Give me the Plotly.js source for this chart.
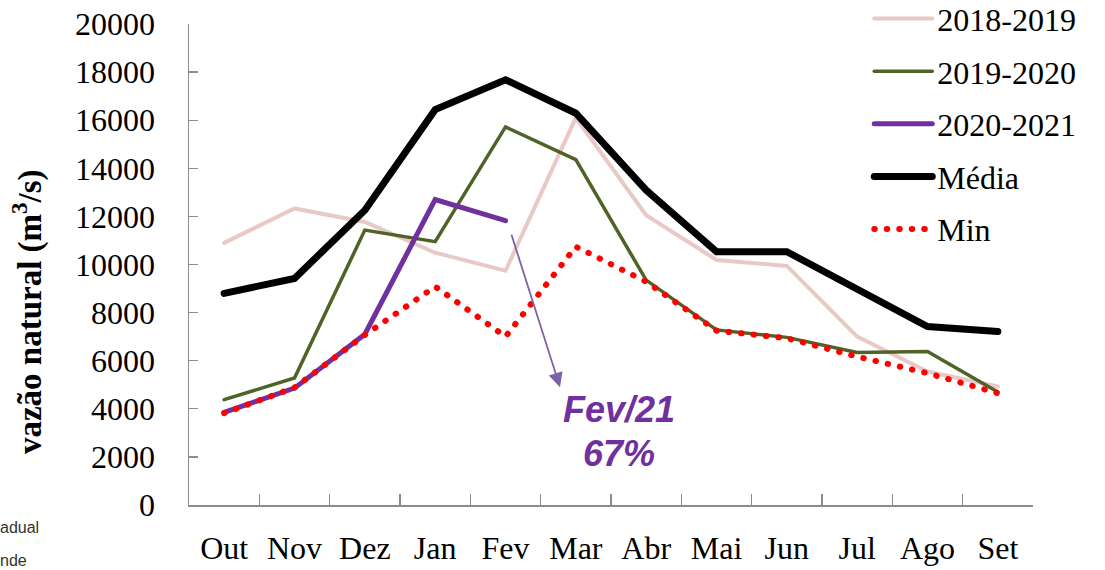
<!DOCTYPE html>
<html>
<head>
<meta charset="utf-8">
<script src="https://cdn.plot.ly/plotly-3.0.1.min.js"></script>
<style>
  html, body { margin: 0; padding: 0; background: #ffffff; }
  #chart { width: 1105px; height: 570px; }
  .js-line { stroke-linecap: round; }
</style>
</head>
<body>
<div id="chart"></div>
<script>
const months = ['Out','Nov','Dez','Jan','Fev','Mar','Abr','Mai','Jun','Jul','Ago','Set'];
const s2018 = [10900, 12330, 11770, 10490, 9740, 16100, 12050, 10190, 9940, 7000, 5550, 4930];
const s2019 = [4380, 5280, 11430, 10950, 15720, 14360, 9350, 7280, 6970, 6340, 6380, 4700];
const s2020 = [3850, 4860, 7100, 12700, 11820];
const media = [8800, 9420, 12260, 16440, 17680, 16290, 13090, 10530, 10530, 8940, 7420, 7210];
const minv  = [3820, 4880, 7070, 9080, 7000, 10740, 9285, 7250, 6935, 6170, 5480, 4650];
const seriesNames = ['2018-2019', '2019-2020', '2020-2021', 'Média', 'Min'];
const yTitle = 'vazão natural (m<sup>3</sup>/s)';
const noteLine1 = 'Fev/21';
const noteLine2 = '67%';

const serif = 'Liberation Serif, Times New Roman, serif';

const traces = [
  { x: months, y: s2018, name: seriesNames[0], legendgroup: 'a', line: { color: '#E8C9C5', width: 4 } },
  { x: months, y: s2019, name: seriesNames[1], legendgroup: 'b', line: { color: '#4F6228', width: 3.5 } },
  { x: months.slice(0, s2020.length), y: s2020, name: seriesNames[2], legendgroup: 'c', line: { color: '#7030A0', width: 5 } },
  { x: months, y: media, name: seriesNames[3], legendgroup: 'd', line: { color: '#000000', width: 7 } },
  { x: months, y: minv, name: seriesNames[4], legendgroup: 'e', line: { color: '#FF0000', width: 6, dash: '0.5px,12px' } }
].map(t => Object.assign({ type: 'scatter', mode: 'lines', hoverinfo: 'skip' }, t));

const layout = {
  width: 1105, height: 570,
  margin: { l: 189, r: 72, t: 24, b: 65, pad: 0, autoexpand: false },
  paper_bgcolor: '#ffffff', plot_bgcolor: '#ffffff',
  showlegend: true,
  legend: {
    x: 0.806, xanchor: 'left', y: 1.068, yanchor: 'top',
    font: { family: serif, size: 32, color: '#000' },
    traceorder: 'grouped', tracegroupgap: 8, itemwidth: 58,
    bgcolor: 'rgba(0,0,0,0)', borderwidth: 0
  },
  xaxis: {
    type: 'category', categoryorder: 'array', categoryarray: months,
    range: [-0.5, 11.5],
    showline: true, linecolor: '#8c8c8c', linewidth: 1.5,
    ticks: 'inside', tickson: 'boundaries', ticklen: 11, tickcolor: '#8c8c8c', tickwidth: 1.3,
    showgrid: false, zeroline: false,
    tickfont: { family: serif, size: 32, color: '#000' },
    ticklabelstandoff: 14
  },
  yaxis: {
    range: [0, 20000], dtick: 2000, tick0: 0, tickformat: 'd',
    showline: true, linecolor: '#8c8c8c', linewidth: 1.5,
    ticks: 'inside', ticklen: 9, tickcolor: '#8c8c8c', tickwidth: 1.3,
    showgrid: false, zeroline: false,
    tickfont: { family: serif, size: 32, color: '#000' },
    ticklabelstandoff: 26
  },
  annotations: [
    { xref: 'paper', yref: 'paper', x: -0.192, y: 0.403, xanchor: 'center', yanchor: 'middle',
      text: '<b>' + yTitle + '</b>', textangle: -90, showarrow: false,
      font: { family: serif, size: 33, color: '#000' } },
    { xref: 'x', yref: 'y', x: 4.775, y: 4900, ax: -49, ay: -154, axref: 'pixel', ayref: 'pixel',
      text: '', showarrow: true, arrowhead: 2, arrowsize: 1.6, arrowwidth: 1.8, arrowcolor: '#7E62A8' },
    { xref: 'paper', yref: 'paper', x: (619 - 189) / 844, y: (505 - 410) / 481, xanchor: 'center', yanchor: 'middle',
      text: '<b><i>' + noteLine1 + '</i></b>', showarrow: false,
      font: { family: 'Liberation Sans, Arial, sans-serif', size: 36, color: '#7030A0' } },
    { xref: 'paper', yref: 'paper', x: (619 - 189) / 844, y: (505 - 453) / 481, xanchor: 'center', yanchor: 'middle',
      text: '<b><i>' + noteLine2 + '</i></b>', showarrow: false,
      font: { family: 'Liberation Sans, Arial, sans-serif', size: 36, color: '#7030A0' } },
    { xref: 'paper', yref: 'paper', x: -189 / 844, y: (505 - 527) / 481, xanchor: 'left', yanchor: 'middle', xshift: -2,
      text: 'adual', showarrow: false,
      font: { family: 'Liberation Sans, Arial, sans-serif', size: 16, color: '#333' } },
    { xref: 'paper', yref: 'paper', x: -189 / 844, y: (505 - 560) / 481, xanchor: 'left', yanchor: 'middle', xshift: -2,
      text: 'nde', showarrow: false,
      font: { family: 'Liberation Sans, Arial, sans-serif', size: 16, color: '#333' } }
  ]
};

Plotly.newPlot('chart', traces, layout, { staticPlot: true, displayModeBar: false });
</script>
</body>
</html>
